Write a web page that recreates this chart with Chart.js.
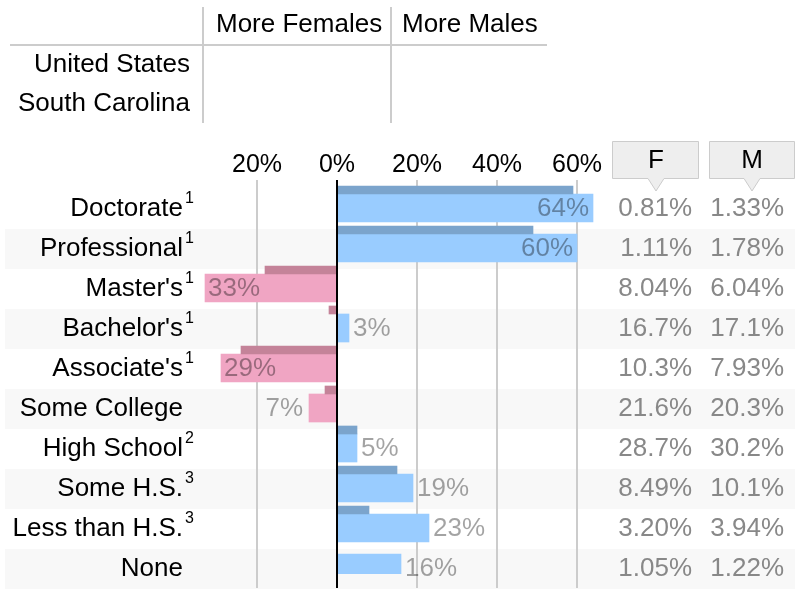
<!DOCTYPE html>
<html>
<head>
<meta charset="utf-8">
<title>Educational attainment by sex</title>
<script src="https://cdn.jsdelivr.net/npm/chart.js@4.4.1/dist/chart.umd.min.js"></script>
<style>
  html, body { margin: 0; padding: 0; background: #fff; }
  canvas { display: block; }
</style>
</head>
<body>
<canvas id="eduChart" width="795" height="590"></canvas>
<script>
// Data
const categories = ['Doctorate', 'Professional', "Master's", "Bachelor's", "Associate's",
    'Some College', 'High School', 'Some H.S.', 'Less than H.S.', 'None'];
const notes = ['1', '1', '1', '1', '1', '', '2', '3', '3', ''];
// share of males minus share of females (%), negative = more females
const usValues = [59, 49, -18, -2, -24, -3, 5, 15, 8, null];
const scValues = [64, 60, -33, 3, -29, -7, 5, 19, 23, 16];
const femalePct = ['0.81%', '1.11%', '8.04%', '16.7%', '10.3%', '21.6%', '28.7%', '8.49%', '3.20%', '1.05%'];
const malePct = ['1.33%', '1.78%', '6.04%', '17.1%', '7.93%', '20.3%', '30.2%', '10.1%', '3.94%', '1.22%'];
const xTicks = [-20, 0, 20, 40, 60];
const xTickLabels = ['20%', '0%', '20%', '40%', '60%'];
const seriesNames = ['United States', 'South Carolina'];
const sideNames = ['More Females', 'More Males'];
const columnNames = ['F', 'M'];

const FONT = '"Liberation Sans", Arial, sans-serif';
const TEXT = `26px ${FONT}`;
const GRID = '#cccccc';

function barColors(values, pos, neg) {
    return values.map(v => (v !== null && v < 0) ? neg : pos);
}

// Header block, stripes, grid, row labels, side table
const backdropPlugin = {
    id: 'backdrop',
    beforeDraw(chart) {
        const { ctx } = chart;
        const x = chart.scales.x;
        const y = chart.scales.y;
        ctx.save();
        ctx.fillStyle = '#fff';
        ctx.fillRect(0, 0, chart.width, chart.height);

        // row stripes
        ctx.fillStyle = '#f8f8f8';
        categories.forEach((c, i) => {
            if (i % 2 === 1) ctx.fillRect(5, y.getPixelForValue(i) - 5, chart.width - 5, 40);
        });

        // header table
        ctx.strokeStyle = GRID;
        ctx.lineWidth = 2;
        ctx.beginPath();
        ctx.moveTo(10, 45); ctx.lineTo(547, 45);
        ctx.moveTo(203, 7); ctx.lineTo(203, 123);
        ctx.moveTo(391, 7); ctx.lineTo(391, 123);
        ctx.stroke();
        ctx.fillStyle = '#000';
        ctx.font = TEXT;
        ctx.textBaseline = 'middle';
        ctx.textAlign = 'left';
        ctx.fillText(sideNames[0], 216, 25);
        ctx.fillText(sideNames[1], 402, 25);
        ctx.textAlign = 'right';
        ctx.fillText(seriesNames[0], 190, 65);
        ctx.fillText(seriesNames[1], 190, 104);

        // vertical grid + tick labels
        ctx.font = `25px ${FONT}`;
        xTicks.forEach((v, i) => {
            const px = x.getPixelForValue(v);
            if (v !== 0) {
                ctx.beginPath();
                ctx.moveTo(px, 180);
                ctx.lineTo(px, 588);
                ctx.stroke();
            }
            ctx.textAlign = 'center';
            ctx.fillStyle = '#000';
            ctx.fillText(xTickLabels[i], px, 165);
        });

        // F / M callouts
        ctx.font = TEXT;
        [[612.5, 698.5, columnNames[0]], [709.5, 794.5, columnNames[1]]].forEach(([l, r, t]) => {
            const mid = Math.round((l + r) / 2);
            ctx.beginPath();
            ctx.moveTo(l, 141.5); ctx.lineTo(r, 141.5); ctx.lineTo(r, 178.5);
            ctx.lineTo(mid + 8, 178.5); ctx.lineTo(mid, 191); ctx.lineTo(mid - 8, 178.5);
            ctx.lineTo(l, 178.5); ctx.closePath();
            ctx.fillStyle = '#eeeeee';
            ctx.fill();
            ctx.strokeStyle = GRID;
            ctx.lineWidth = 1;
            ctx.stroke();
            ctx.fillStyle = '#000';
            ctx.textAlign = 'center';
            ctx.fillText(t, mid, 161);
        });

        // row labels and side table
        categories.forEach((name, i) => {
            const cy = y.getPixelForValue(i) + 15;
            ctx.font = TEXT;
            ctx.textBaseline = 'middle';
            ctx.textAlign = 'right';
            ctx.fillStyle = '#000';
            ctx.fillText(name, 183, cy);
            ctx.fillStyle = '#888';
            ctx.fillText(femalePct[i], 692, cy);
            ctx.fillText(malePct[i], 784, cy);
            if (notes[i]) {
                ctx.fillStyle = '#000';
                ctx.font = `16px ${FONT}`;
                ctx.textAlign = 'left';
                ctx.textBaseline = 'alphabetic';
                ctx.fillText(notes[i], 185, cy - 6);
            }
        });
        ctx.restore();
    }
};

// Zero line and value labels on the South Carolina bars
const overlayPlugin = {
    id: 'overlay',
    afterDatasetsDraw(chart) {
        const { ctx } = chart;
        const x0 = chart.scales.x.getPixelForValue(0);
        ctx.save();
        ctx.strokeStyle = '#000';
        ctx.lineWidth = 2;
        ctx.beginPath();
        ctx.moveTo(x0, 180);
        ctx.lineTo(x0, 588);
        ctx.stroke();

        const meta = chart.getDatasetMeta(1);
        ctx.font = TEXT;
        ctx.textBaseline = 'middle';
        ctx.fillStyle = 'rgba(0,0,0,0.36)';
        meta.data.forEach((bar, i) => {
            const v = scValues[i];
            const inside = Math.abs(v) >= 25;
            const text = Math.abs(v) + '%';
            const cy = bar.y + 1;
            if (v >= 0) {
                ctx.textAlign = inside ? 'right' : 'left';
                ctx.fillText(text, inside ? bar.x - 4 : bar.x + 4, cy);
            } else {
                ctx.textAlign = inside ? 'left' : 'right';
                ctx.fillText(text, inside ? bar.x + 3 : bar.x - 6, cy);
            }
        });
        ctx.restore();
    }
};

function initChart() {
    const el = document.getElementById('eduChart');
    new Chart(el, {
        type: 'bar',
        data: {
            labels: categories,
            datasets: [
                {
                    label: seriesNames[0],
                    data: usValues,
                    backgroundColor: barColors(usValues, '#7ba4cc', '#c48399'),
                    barThickness: 8,
                    borderWidth: 0
                },
                {
                    label: seriesNames[1],
                    data: scValues,
                    backgroundColor: barColors(scValues, '#99ccff', '#f0a5c3'),
                    barThickness: 28,
                    borderWidth: 0
                }
            ]
        },
        options: {
            indexAxis: 'y',
            responsive: false,
            animation: false,
            layout: { padding: { left: 197, right: 198, top: 174, bottom: 16 } },
            plugins: { legend: { display: false }, tooltip: { enabled: false } },
            scales: {
                x: { type: 'linear', min: -35, max: 65, display: false },
                y: { type: 'category', offset: true, display: false }
            }
        },
        plugins: [backdropPlugin, overlayPlugin]
    });
}

document.addEventListener('DOMContentLoaded', initChart);
</script>
</body>
</html>
